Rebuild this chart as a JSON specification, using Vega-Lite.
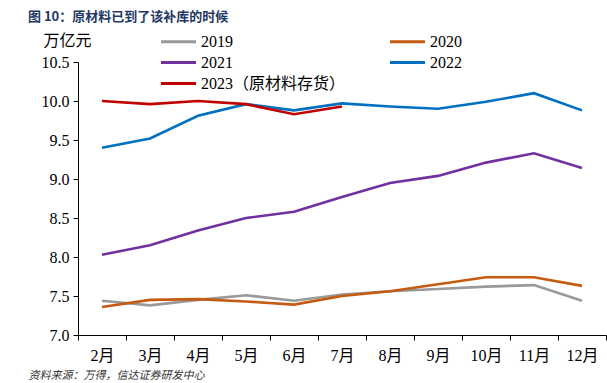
{
  "$schema": "https://vega.github.io/schema/vega-lite/v6.json",
  "width": 528,
  "height": 273,
  "autosize": {"type": "none"},
  "padding": {"left": 78, "top": 62, "right": 1, "bottom": 48},
  "background": "white",
  "config": {"view": {"stroke": null}},
  "title": {
    "text": "图 10：原材料已到了该补库的时候",
    "anchor": "start",
    "frame": "group",
    "dx": -50,
    "dy": 3,
    "offset": 10,
    "font": "Noto Sans CJK SC",
    "fontSize": 13,
    "fontWeight": "bold",
    "color": "#1F3864"
  },
  "data": {"values": [
    {"month": "2月", "series": "2019", "value": 7.44},
    {"month": "3月", "series": "2019", "value": 7.38},
    {"month": "4月", "series": "2019", "value": 7.45},
    {"month": "5月", "series": "2019", "value": 7.51},
    {"month": "6月", "series": "2019", "value": 7.44},
    {"month": "7月", "series": "2019", "value": 7.52},
    {"month": "8月", "series": "2019", "value": 7.56},
    {"month": "9月", "series": "2019", "value": 7.59},
    {"month": "10月", "series": "2019", "value": 7.62},
    {"month": "11月", "series": "2019", "value": 7.64},
    {"month": "12月", "series": "2019", "value": 7.44},
    {"month": "2月", "series": "2020", "value": 7.36},
    {"month": "3月", "series": "2020", "value": 7.45},
    {"month": "4月", "series": "2020", "value": 7.46},
    {"month": "5月", "series": "2020", "value": 7.43},
    {"month": "6月", "series": "2020", "value": 7.39},
    {"month": "7月", "series": "2020", "value": 7.5},
    {"month": "8月", "series": "2020", "value": 7.56},
    {"month": "9月", "series": "2020", "value": 7.65},
    {"month": "10月", "series": "2020", "value": 7.74},
    {"month": "11月", "series": "2020", "value": 7.74},
    {"month": "12月", "series": "2020", "value": 7.63},
    {"month": "2月", "series": "2021", "value": 8.03},
    {"month": "3月", "series": "2021", "value": 8.15},
    {"month": "4月", "series": "2021", "value": 8.34},
    {"month": "5月", "series": "2021", "value": 8.5},
    {"month": "6月", "series": "2021", "value": 8.58},
    {"month": "7月", "series": "2021", "value": 8.77},
    {"month": "8月", "series": "2021", "value": 8.95},
    {"month": "9月", "series": "2021", "value": 9.04},
    {"month": "10月", "series": "2021", "value": 9.21},
    {"month": "11月", "series": "2021", "value": 9.33},
    {"month": "12月", "series": "2021", "value": 9.14},
    {"month": "2月", "series": "2022", "value": 9.4},
    {"month": "3月", "series": "2022", "value": 9.52},
    {"month": "4月", "series": "2022", "value": 9.81},
    {"month": "5月", "series": "2022", "value": 9.96},
    {"month": "6月", "series": "2022", "value": 9.88},
    {"month": "7月", "series": "2022", "value": 9.97},
    {"month": "8月", "series": "2022", "value": 9.93},
    {"month": "9月", "series": "2022", "value": 9.9},
    {"month": "10月", "series": "2022", "value": 9.99},
    {"month": "11月", "series": "2022", "value": 10.1},
    {"month": "12月", "series": "2022", "value": 9.88},
    {"month": "2月", "series": "2023（原材料存货）", "value": 10.0},
    {"month": "3月", "series": "2023（原材料存货）", "value": 9.96},
    {"month": "4月", "series": "2023（原材料存货）", "value": 10.0},
    {"month": "5月", "series": "2023（原材料存货）", "value": 9.96},
    {"month": "6月", "series": "2023（原材料存货）", "value": 9.83},
    {"month": "7月", "series": "2023（原材料存货）", "value": 9.93}
  ]},
  "mark": {"type": "line", "strokeWidth": 2.6},
  "encoding": {
    "x": {
      "field": "month",
      "type": "ordinal",
      "sort": ["2月", "3月", "4月", "5月", "6月", "7月", "8月", "9月", "10月", "11月", "12月"],
      "scale": {"type": "band", "paddingInner": 0, "paddingOuter": 0},
      "axis": {
        "title": "资料来源：万得，信达证券研发中心",
        "titleX": -50,
        "titleY": 40,
        "titleAlign": "left",
        "titleBaseline": "middle",
        "titleFont": "Noto Sans CJK SC",
        "titleFontSize": 11,
        "titleFontStyle": "italic",
        "titleFontWeight": "normal",
        "titleColor": "#333333",
        "labelAngle": 0,
        "tickBand": "extent",
        "domainColor": "#000000",
        "tickColor": "#000000",
        "tickSize": 5,
        "labelFont": "Liberation Serif, Noto Sans CJK SC",
        "labelFontSize": 16,
        "labelColor": "#000000",
        "labelPadding": 7
      }
    },
    "y": {
      "field": "value",
      "type": "quantitative",
      "scale": {"domain": [7.0, 10.5], "nice": false, "zero": false},
      "axis": {
        "values": [7.0, 7.5, 8.0, 8.5, 9.0, 9.5, 10.0, 10.5],
        "format": ".1f",
        "grid": false,
        "title": "万亿元",
        "titleAngle": 0,
        "titleX": -11,
        "titleY": -22,
        "titleAlign": "center",
        "titleBaseline": "middle",
        "titleFont": "Noto Sans CJK SC",
        "titleFontSize": 16,
        "titleFontWeight": "normal",
        "titleColor": "#000000",
        "domainColor": "#000000",
        "tickColor": "#000000",
        "tickSize": 5,
        "labelFont": "Liberation Serif",
        "labelFontSize": 16,
        "labelColor": "#000000",
        "labelPadding": 4
      }
    },
    "color": {
      "field": "series",
      "type": "nominal",
      "scale": {
        "domain": ["2019", "2021", "2023（原材料存货）", "2020", "2022"],
        "range": ["#999999", "#7030A0", "#C00000", "#C55A11", "#0070C0"]
      },
      "legend": {
        "title": null,
        "orient": "none",
        "legendX": 90,
        "legendY": -31,
        "columns": 2,
        "columnPadding": 38,
        "rowPadding": 2,
        "symbolType": "M-2,0L2,0",
        "symbolSize": 306,
        "symbolStrokeWidth": 3,
        "labelFont": "Liberation Serif, Noto Sans CJK SC",
        "labelFontSize": 16,
        "labelColor": "#000000",
        "labelOffset": 12,
        "labelLimit": 300
      }
    },
    "strokeWidth": {
      "field": "series",
      "type": "nominal",
      "scale": {
        "domain": ["2019", "2020", "2021", "2022", "2023（原材料存货）"],
        "range": [2.6, 2.6, 2.6, 2.6, 3.6]
      },
      "legend": null
    }
  }
}
